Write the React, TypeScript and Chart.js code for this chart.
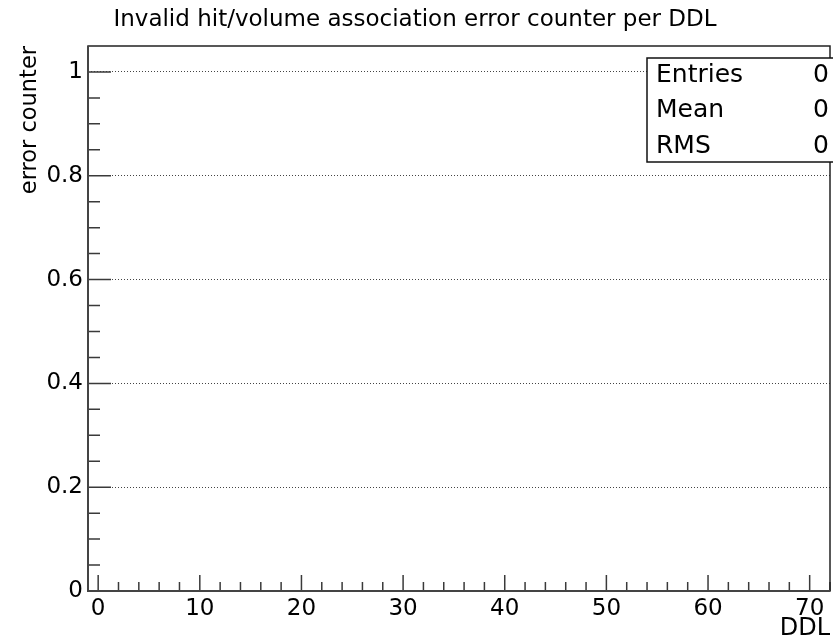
import React, { useEffect, useRef } from 'react';
import { Chart, registerables } from 'chart.js';

Chart.register(...registerables);

// ---- data (empty histogram: no entries) ----
const errorCounts: { x: number; y: number }[] = [];
const xMajorTicks = [0, 10, 20, 30, 40, 50, 60, 70];
const xMinorTicks = [2, 4, 6, 8, 12, 14, 16, 18, 22, 24, 26, 28, 32, 34, 36, 38, 42, 44, 46, 48, 52, 54, 56, 58, 62, 64, 66, 68, 72];
const yMajorTicks = [0, 0.2, 0.4, 0.6, 0.8, 1];
const yMinorTicks = [0.05, 0.1, 0.15, 0.25, 0.3, 0.35, 0.45, 0.5, 0.55, 0.65, 0.7, 0.75, 0.85, 0.9, 0.95];
const statsLabels = ['Entries', 'Mean', 'RMS'];
const statsValues = ['0', '0', '0'];

const TITLE = 'Invalid hit/volume association error counter per DDL';
const X_TITLE = 'DDL';
const Y_TITLE = 'error counter';
const FONT = 'DejaVu Sans';

const rootFrame = {
  id: 'rootFrame',
  afterDraw(chart: any) {
    const { ctx, chartArea: a, scales } = chart;
    const x = scales.x;
    const y = scales.y;
    ctx.save();
    ctx.strokeStyle = '#3a3a3a';
    ctx.lineWidth = 1.5;
    ctx.beginPath();
    for (const v of yMajorTicks) {
      const py = y.getPixelForValue(v);
      ctx.moveTo(a.left, py);
      ctx.lineTo(a.left + 23, py);
    }
    for (const v of yMinorTicks) {
      const py = y.getPixelForValue(v);
      ctx.moveTo(a.left, py);
      ctx.lineTo(a.left + 12, py);
    }
    for (const v of xMajorTicks) {
      const px = x.getPixelForValue(v);
      ctx.moveTo(px, a.bottom);
      ctx.lineTo(px, a.bottom - 16);
    }
    for (const v of xMinorTicks) {
      const px = x.getPixelForValue(v);
      ctx.moveTo(px, a.bottom);
      ctx.lineTo(px, a.bottom - 9);
    }
    ctx.stroke();

    // frame
    ctx.strokeStyle = '#222';
    ctx.lineWidth = 1.5;
    ctx.strokeRect(a.left, a.top, a.right - a.left, a.bottom - a.top);
    ctx.strokeStyle = '#444';
    ctx.lineWidth = 2;
    ctx.beginPath();
    ctx.moveTo(a.left, a.top);
    ctx.lineTo(a.left, a.bottom);
    ctx.lineTo(a.right, a.bottom);
    ctx.stroke();

    // stats box
    const bx = 647, by = 58, bh = 104;
    ctx.fillStyle = '#fff';
    ctx.fillRect(bx, by, chart.width - bx + 5, bh);
    ctx.strokeStyle = '#111';
    ctx.lineWidth = 1.5;
    ctx.strokeRect(bx, by, chart.width - bx + 5, bh);
    ctx.fillStyle = '#000';
    ctx.font = `25px "${FONT}"`;
    ctx.textBaseline = 'alphabetic';
    const baselines = [82, 117, 153];
    statsLabels.forEach((lab, i) => {
      ctx.textAlign = 'left';
      ctx.fillText(lab, 656, baselines[i]);
      ctx.textAlign = 'right';
      ctx.fillText(statsValues[i], 829, baselines[i]);
    });
    ctx.restore();
  },
};

export default function App() {
  const ref = useRef<HTMLCanvasElement>(null);
  useEffect(() => {
    const chart = new Chart(ref.current as HTMLCanvasElement, {
      type: 'scatter',
      data: {
        datasets: [
          {
            label: 'errors',
            data: errorCounts,
            backgroundColor: '#000',
            borderColor: '#000',
          },
        ],
      },
      options: {
        animation: false,
        responsive: true,
        maintainAspectRatio: false,
        layout: { padding: { left: 0, right: 3, top: 0, bottom: 0 } },
        plugins: {
          legend: { display: false },
          tooltip: { enabled: false },
          title: {
            display: true,
            text: TITLE,
            color: '#000',
            font: { family: FONT, size: 23, weight: 'normal' },
            padding: { top: 6, bottom: 12.4 },
          },
        },
        scales: {
          x: {
            type: 'linear',
            min: -1,
            max: 72,
            afterBuildTicks: (s: any) => {
              s.ticks = xMajorTicks.map((v) => ({ value: v }));
            },
            afterFit: (s: any) => {
              s.height = 50;
            },
            grid: { display: false, drawTicks: false },
            border: { display: false },
            ticks: {
              color: '#000',
              font: { family: FONT, size: 23 },
              padding: 4,
              maxRotation: 0,
              autoSkip: false,
              callback: (v: any) => String(v),
            },
            title: {
              display: true,
              text: X_TITLE,
              align: 'end',
              color: '#000',
              font: { family: FONT, size: 24 },
              padding: { top: 0, bottom: -2 },
            },
          },
          y: {
            type: 'linear',
            min: 0,
            max: 1.05,
            afterBuildTicks: (s: any) => {
              s.ticks = yMajorTicks.map((v) => ({ value: v }));
            },
            afterFit: (s: any) => {
              s.width = 88;
            },
            grid: { drawTicks: false, color: '#444', lineWidth: 1 },
            border: { display: false, dash: [1, 2] },
            ticks: {
              color: '#000',
              font: { family: FONT, size: 23 },
              padding: 5,
              autoSkip: false,
              callback: (v: any) => String(v),
            },
            title: {
              display: true,
              text: Y_TITLE,
              align: 'end',
              color: '#000',
              font: { family: FONT, size: 22.5 },
              padding: { top: 17, bottom: 0 },
            },
          },
        },
      },
      plugins: [rootFrame],
    } as any);
    return () => chart.destroy();
  }, []);
  return (
    <div style={{ position: 'fixed', left: 0, top: 0, width: 833, height: 641, background: '#fff' }}>
      <canvas ref={ref} />
    </div>
  );
}
